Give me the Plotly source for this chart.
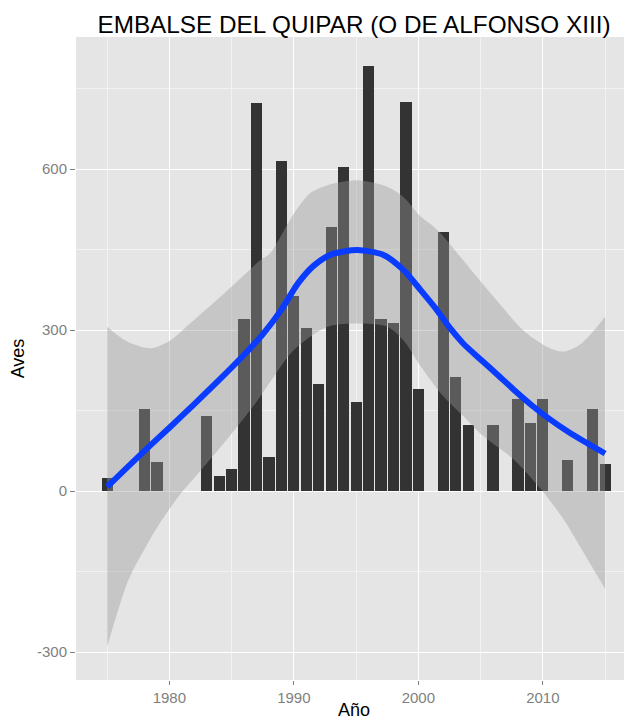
import plotly.graph_objects as go

# Bar data (year, birds)
years = [1975, 1978, 1979, 1983, 1984, 1985, 1986, 1987, 1988, 1989, 1990, 1991,
         1992, 1993, 1994, 1995, 1996, 1997, 1998, 1999, 2000, 2002, 2003, 2004,
         2006, 2008, 2009, 2010, 2012, 2014, 2015]
aves = [25, 153, 54, 140, 28, 42, 320, 723, 63, 615, 363, 303,
        200, 492, 603, 166, 792, 320, 314, 725, 190, 483, 213, 124,
        123, 172, 126, 171, 58, 152, 50]

# Smooth curve and confidence band
smooth_x = [1975, 1978, 1980, 1982, 1984, 1986, 1987.5, 1989.0, 1990.3,
            1991.6, 1993.0, 1995.1, 1997.2, 1998.8, 2000.2, 2001.4, 2002.6, 2003.6,
            2005.0, 2006.4, 2007.8, 2009.2, 2010.6, 2012.0, 2013.5, 2015]
smooth_y = [8, 75, 118, 162, 207, 254, 292, 338, 386,
            420, 441, 449, 440, 412, 374, 340, 302, 275,
            245, 216, 186, 158, 133, 111, 90, 70]

upper_x = [1975, 1976.5, 1978.5, 1980.1, 1981.7, 1984.4, 1987.3, 1988.1, 1990.0, 1991.3,
           1992.7, 1995.1, 1997.5, 1998.8, 2000.2, 2001.0, 2001.8, 2003.6, 2006.3,
           2008.4, 2010.3, 2011.7, 2013.1, 2015]
upper_y = [306, 280, 266, 281, 313, 368, 430, 443, 517, 555,
           570, 579, 567, 548, 511, 497, 480, 430, 355,
           300, 269, 260, 275, 325]

lower_x = [1975, 1976.7, 1978.1, 1979.4, 1980.7, 1982.1, 1984.8, 1986.9, 1988.2,
           1990.0, 1992.7, 1995.1, 1997.5, 1998.8, 2000.2, 2001.8, 2003.6, 2005.0,
           2007.7, 2009.9, 2011.7, 2013.3, 2015]
lower_y = [-290, -166, -104, -54, -11, 27, 101, 163, 207,
           263, 306, 312, 306, 281, 232, 182, 140, 107,
           58, 2, -54, -116, -182]

title_text = "EMBALSE DEL QUIPAR (O DE ALFONSO XIII)"
y_ticks = [-300, 0, 300, 600]
y_tick_text = ["-300", "0", "300", "600"]
x_ticks = [1980, 1990, 2000, 2010]

fig = go.Figure()

fig.add_trace(go.Bar(
    x=years, y=aves, width=0.9,
    marker=dict(color="#333333", line=dict(width=0)),
    showlegend=False, hoverinfo="x+y",
))

fig.add_trace(go.Scatter(
    x=upper_x + [upper_x[-1], lower_x[-1]] + lower_x[::-1],
    y=upper_y + [upper_y[-1], lower_y[-1]] + lower_y[::-1],
    fill="toself", fillcolor="rgba(153,153,153,0.4)",
    line=dict(width=0, shape="spline", smoothing=0.8),
    mode="lines", showlegend=False, hoverinfo="skip",
))

fig.add_trace(go.Scatter(
    x=smooth_x, y=smooth_y, mode="lines",
    line=dict(color="#0A3CFF", width=6, shape="spline", smoothing=0.7),
    showlegend=False,
))

fig.update_layout(
    width=624, height=712,
    margin=dict(l=68, r=0, t=29, b=40),
    paper_bgcolor="white",
    plot_bgcolor="#E5E5E5",
    font=dict(family="Liberation Sans, Arial, sans-serif"),
    bargap=0,
    title=dict(text=title_text, x=0.5, xref="paper", xanchor="center",
               y=0.9775, yref="container", yanchor="middle",
               font=dict(size=24.3, color="#000000")),
    xaxis=dict(
        range=[1972.5, 2017.16], tickmode="array", tickvals=x_ticks,
        ticks="outside", ticklen=4, tickcolor="#7F7F7F", tickwidth=1,
        tickfont=dict(size=15, color="#7F7F7F"),
        showgrid=True, gridcolor="white", gridwidth=1.2, zeroline=False,
        minor=dict(tickvals=[1975, 1985, 1995, 2005, 2015], showgrid=True,
                   gridcolor="#F2F2F2", gridwidth=0.6),
        title=dict(text="Año", font=dict(size=18, color="#000000"), standoff=2),
        showline=False, automargin=False,
    ),
    yaxis=dict(
        range=[-352, 846], tickmode="array", tickvals=y_ticks, ticktext=y_tick_text,
        ticks="outside", ticklen=5, tickcolor="#7F7F7F", tickwidth=1,
        tickfont=dict(size=15, color="#7F7F7F"),
        showgrid=True, gridcolor="white", gridwidth=1.2, zeroline=False,
        minor=dict(tickvals=[-150, 150, 450, 750], showgrid=True,
                   gridcolor="#F2F2F2", gridwidth=0.6),
        title=dict(text="Aves", font=dict(size=18, color="#000000"), standoff=12),
        showline=False, automargin=False,
    ),
)

fig.write_html("out.html")
